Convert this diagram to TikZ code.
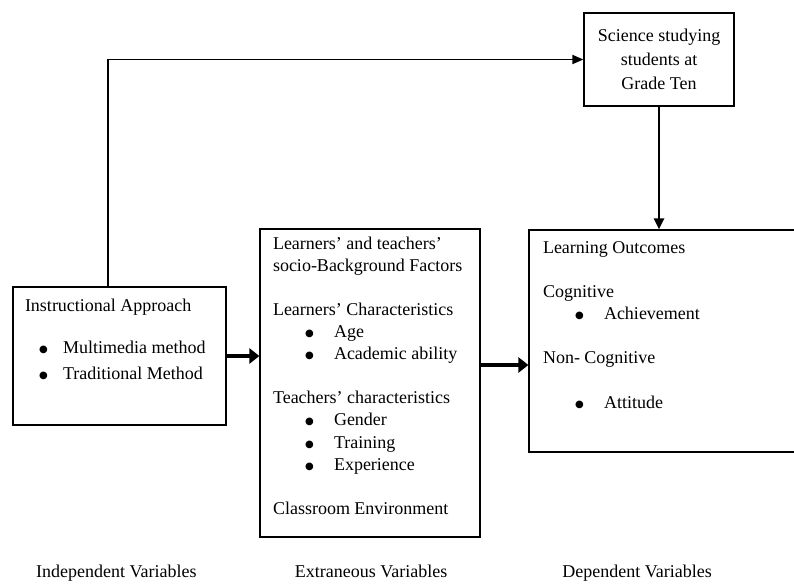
\documentclass[tikz,border=0pt]{standalone}
\usepackage{fontspec}
\setmainfont{Liberation Serif}
\newfontfamily\symfont{DejaVu Sans}
\usepackage{tikz}
\usetikzlibrary{arrows.meta}
\usetikzlibrary{positioning}
\usetikzlibrary{calc}

% bullet line: indent, gap to text, text
\newcommand{\bulletline}[3]{\hspace*{#1}\makebox[#2][l]{\raisebox{1pt}{\symfont\fontsize{10}{10}\selectfont ●}}#3}

\tikzset{
	varbox/.style={draw,rectangle,line width=1.2pt,inner sep=0pt},
	thinlink/.style={line width=1.8pt,-{Triangle[length=11pt,width=9pt]}},
	downlink/.style={line width=2.6pt,-{Triangle[length=11pt,width=10pt]}},
	thicklink/.style={line width=4.5pt,-{Triangle[length=10pt,width=15pt]}},
	varlabel/.style={inner sep=0pt}
}

\begin{document}
\begin{tikzpicture}[x=1pt,y=-1pt,font=\fontsize{18}{22.1}\selectfont]

	\useasboundingbox (0,0) rectangle (794,584);

	% Independent variables
	% ---------------------
	\node[varbox,minimum width=213,minimum height=138]
		  (Instr) at (119.5,356)
		  {\parbox[c][114.6pt][t]{189pt}{Instructional Approach\\[20pt]
		  \bulletline{14pt}{24pt}{Multimedia method}\\[4pt]
		  \bulletline{14pt}{24pt}{Traditional Method}}};

	% Extraneous variables
	% --------------------
	\node[varbox,minimum width=220,minimum height=308]
		  (Extra) at (370,383)
		  {\parbox[c][292.6pt][t]{194pt}{Learners' and teachers'\\
		  socio-Background Factors\\[22.1pt]
		  Learners' Characteristics\\
		  \bulletline{32pt}{29pt}{Age}\\
		  \bulletline{32pt}{29pt}{Academic ability}\\[22.1pt]
		  Teachers' characteristics\\
		  \bulletline{32pt}{29pt}{Gender}\\
		  \bulletline{32pt}{29pt}{Training}\\
		  \bulletline{32pt}{29pt}{Experience}\\[22.1pt]
		  Classroom Environment}};

	% Dependent variables
	% -------------------
	\node[varbox,minimum width=268,minimum height=222]
		  (Outcome) at (663,341)
		  {\parbox[c][198.6pt][t]{240pt}{Learning Outcomes\\[22pt]
		  Cognitive\\
		  \bulletline{32pt}{29pt}{Achievement}\\[22pt]
		  Non- Cognitive\\[22pt]
		  \bulletline{32pt}{29pt}{Attitude}}};

	% target group
	\node[varbox,minimum width=150,minimum height=93,align=center,
		  font=\fontsize{18}{24}\selectfont]
		  (Science) at (659,59.5) {Science studying\\students at\\Grade Ten};

	% connections
	\draw [thinlink] ([xshift=-11.5pt]Instr.north) |- (Science.west);
	\draw [downlink] (Science.south) -- (Science.south |- Outcome.north);
	\draw [thicklink] (Instr.east) -- (Instr.east -| Extra.west);
	\draw [thicklink] ([yshift=18pt]Extra.east) -- ([yshift=18pt]Extra.east -| Outcome.west);

	% column labels
	\node[varlabel,anchor=base west] (IndepLbl) at (36,577) {Independent Variables};
	\node[varlabel,anchor=base] (ExtraLbl) at (371,577) {Extraneous Variables};
	\node[varlabel,anchor=base east] (DepLbl) at (712,577) {Dependent Variables};

\end{tikzpicture}
\end{document}
